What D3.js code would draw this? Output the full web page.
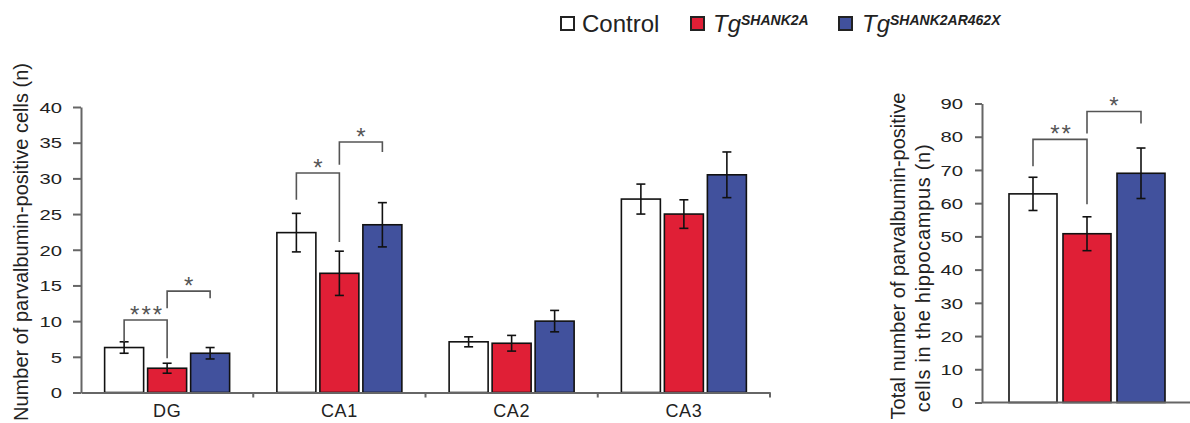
<!DOCTYPE html>
<html>
<head>
<meta charset="utf-8">
<script src="https://cdn.jsdelivr.net/npm/d3@7"></script>
<style>
  html, body { margin: 0; padding: 0; background: #fff; }
  svg { display: block; font-family: "Liberation Sans", Arial, sans-serif; }
</style>
</head>
<body>
<svg id="chart" width="1190" height="423"></svg>
<script>
// ---------- data ----------
const categories = ["DG", "CA1", "CA2", "CA3"];
const groups = ["Control", "SHANK2A", "SHANK2AR462X"];
const controlMeans = [6.3, 22.4, 7.1, 27.1];
const controlErr   = [0.8, 2.7, 0.7, 2.1];
const shank2aMeans = [3.4, 16.7, 6.9, 25.0];
const shank2aErr   = [0.7, 3.1, 1.1, 2.0];
const r462xMeans   = [5.5, 23.5, 10.0, 30.5];
const r462xErr     = [0.8, 3.1, 1.5, 3.2];
const totalMeans   = [62.8, 50.8, 69.0];
const totalErr     = [5.0, 5.1, 7.6];
const leftTicks  = [0, 5, 10, 15, 20, 25, 30, 35, 40];
const rightTicks = [0, 10, 20, 30, 40, 50, 60, 70, 80, 90];
// significance brackets (values in data units)
const leftBrackets = [
  { cat: "DG",  a: 0, b: 1, top: 10.15, endA: 7.1,  endB: 4.8,  label: "***" },
  { cat: "DG",  a: 1, b: 2, top: 14.2,  endA: 11.8, endB: 13.2, label: "*" },
  { cat: "CA1", a: 0, b: 1, top: 30.75, endA: 27.0, endB: 21.1, label: "*" },
  { cat: "CA1", a: 1, b: 2, top: 35.1,  endA: 31.9, endB: 33.7, label: "*" }
];
const rightBrackets = [
  { a: 0, b: 1, top: 79.2, endA: 71.1, endB: 59.7, label: "**" },
  { a: 1, b: 2, top: 87.6, endA: 81.0, endB: 84.0, label: "*" }
];

const colors = { "Control": "#ffffff", "SHANK2A": "#e01f36", "SHANK2AR462X": "#41519d" };
const axisColor = "#666";
const textColor = "#222";

const svg = d3.select("#chart");

// ---------- left chart ----------
const series = [
  { g: "Control", m: controlMeans, e: controlErr },
  { g: "SHANK2A", m: shank2aMeans, e: shank2aErr },
  { g: "SHANK2AR462X", m: r462xMeans, e: r462xErr }
];
const leftData = [];
categories.forEach((c, i) => series.forEach(s => leftData.push({ cat: c, g: s.g, v: s.m[i], e: s.e[i] })));

const x0 = d3.scaleBand().domain(categories).range([81, 770]).padding(0);
const x1 = d3.scaleBand().domain(groups).range([-64.5, 64.5]).paddingInner(0.093).paddingOuter(0.0465);
const yL = d3.scaleLinear().domain([0, 40]).range([392.5, 107]);
const barX = (cat, g) => x0(cat) + x0.bandwidth() / 2 + x1(g);
const barC = (cat, g) => barX(cat, g) + x1.bandwidth() / 2;

const left = svg.append("g");
left.selectAll("rect.bar").data(leftData).join("rect")
  .attr("class", "bar")
  .attr("x", d => barX(d.cat, d.g))
  .attr("y", d => yL(d.v))
  .attr("width", x1.bandwidth())
  .attr("height", d => yL(0) - yL(d.v))
  .attr("fill", d => colors[d.g])
  .attr("stroke", "#111").attr("stroke-width", 1.6);

const errG = left.selectAll("g.err").data(leftData).join("g").attr("class", "err")
  .attr("stroke", "#111").attr("stroke-width", 1.6);
errG.append("line")
  .attr("x1", d => barC(d.cat, d.g)).attr("x2", d => barC(d.cat, d.g))
  .attr("y1", d => yL(d.v - d.e)).attr("y2", d => yL(d.v + d.e));
errG.append("line")
  .attr("x1", d => barC(d.cat, d.g) - 4.5).attr("x2", d => barC(d.cat, d.g) + 4.5)
  .attr("y1", d => yL(d.v - d.e)).attr("y2", d => yL(d.v - d.e));
errG.append("line")
  .attr("x1", d => barC(d.cat, d.g) - 4.5).attr("x2", d => barC(d.cat, d.g) + 4.5)
  .attr("y1", d => yL(d.v + d.e)).attr("y2", d => yL(d.v + d.e));

// left y axis
const yAxisL = left.append("g").attr("transform", "translate(81,0)")
  .call(d3.axisLeft(yL).tickValues(leftTicks).tickSize(8).tickSizeOuter(0).tickPadding(0));
yAxisL.select(".domain").attr("stroke", axisColor).attr("stroke-width", 2);
yAxisL.selectAll(".tick line").attr("stroke", axisColor).attr("stroke-width", 2);
yAxisL.selectAll(".tick text")
  .attr("x", -19 / 1.35).attr("dy", "0.35em")
  .attr("transform", "scale(1.35,1)")
  .attr("fill", textColor).style("font-size", "15px").style("font-family", "Liberation Sans, Arial, sans-serif");

// left x axis
const xAxisL = left.append("g").attr("transform", `translate(0,${yL(0)})`)
  .call(d3.axisBottom(x0).tickSize(0).tickSizeOuter(0).tickPadding(12));
xAxisL.select(".domain").attr("stroke", axisColor).attr("stroke-width", 2);
xAxisL.selectAll(".tick text").attr("fill", textColor).style("font-size", "18px")
  .style("letter-spacing", "0.6px")
  .style("font-family", "Liberation Sans, Arial, sans-serif");
// small separators between categories
left.selectAll("line.sep").data(categories).join("line")
  .attr("class", "sep")
  .attr("x1", d => x0(d) + x0.bandwidth()).attr("x2", d => x0(d) + x0.bandwidth())
  .attr("y1", yL(0)).attr("y2", yL(0) + 5)
  .attr("stroke", axisColor).attr("stroke-width", 2);

// left y label
left.append("text")
  .attr("transform", `translate(28,242) rotate(-90)`)
  .attr("text-anchor", "middle")
  .attr("fill", textColor).style("font-size", "20px")
  .text("Number of parvalbumin-positive cells (n)");

// brackets
function drawBrackets(parent, list, xa, xb, y) {
  const g = parent.append("g");
  list.forEach(b => {
    const ax = xa(b), bx = xb(b);
    g.append("path")
      .attr("d", `M${ax},${y(b.endA)}V${y(b.top)}H${bx}V${y(b.endB)}`)
      .attr("fill", "none").attr("stroke", "#555").attr("stroke-width", 1.6);
    g.append("text")
      .attr("x", (ax + bx) / 2 + (b.label.length > 1 ? 1.5 : 0))
      .attr("y", y(b.top) + 3)
      .attr("text-anchor", "middle")
      .attr("fill", "#555")
      .style("font-size", "24px")
      .style("letter-spacing", b.label.length > 1 ? "2px" : "0px")
      .text(b.label);
  });
}
drawBrackets(left, leftBrackets,
  b => barC(b.cat, groups[b.a]), b => barC(b.cat, groups[b.b]), yL);

// ---------- right chart ----------
const totalData = groups.map((g, i) => ({ g, v: totalMeans[i], e: totalErr[i] }));
const xR = d3.scaleBand().domain(groups).range([1006, 1168]).paddingInner(0.111).paddingOuter(0.0555);
const yR = d3.scaleLinear().domain([0, 90]).range([402.5, 103.5]);
const right = svg.append("g");
right.selectAll("rect.bar").data(totalData).join("rect")
  .attr("class", "bar")
  .attr("x", d => xR(d.g)).attr("y", d => yR(d.v))
  .attr("width", xR.bandwidth()).attr("height", d => yR(0) - yR(d.v))
  .attr("fill", d => colors[d.g]).attr("stroke", "#111").attr("stroke-width", 1.6);
const cR = g => xR(g) + xR.bandwidth() / 2;
const errR = right.selectAll("g.err").data(totalData).join("g").attr("class", "err")
  .attr("stroke", "#111").attr("stroke-width", 1.6);
errR.append("line").attr("x1", d => cR(d.g)).attr("x2", d => cR(d.g))
  .attr("y1", d => yR(d.v - d.e)).attr("y2", d => yR(d.v + d.e));
errR.append("line").attr("x1", d => cR(d.g) - 4.5).attr("x2", d => cR(d.g) + 4.5)
  .attr("y1", d => yR(d.v - d.e)).attr("y2", d => yR(d.v - d.e));
errR.append("line").attr("x1", d => cR(d.g) - 4.5).attr("x2", d => cR(d.g) + 4.5)
  .attr("y1", d => yR(d.v + d.e)).attr("y2", d => yR(d.v + d.e));

const yAxisR = right.append("g").attr("transform", "translate(982,0)")
  .call(d3.axisLeft(yR).tickValues(rightTicks).tickSize(7).tickSizeOuter(0).tickPadding(0));
yAxisR.select(".domain").attr("stroke", axisColor).attr("stroke-width", 2);
yAxisR.selectAll(".tick line").attr("stroke", axisColor).attr("stroke-width", 2);
yAxisR.selectAll(".tick text")
  .attr("x", -19 / 1.35).attr("dy", "0.35em")
  .attr("transform", "scale(1.35,1)")
  .attr("fill", textColor).style("font-size", "15px").style("font-family", "Liberation Sans, Arial, sans-serif");

right.append("line").attr("x1", 982).attr("x2", 1190).attr("y1", yR(0)).attr("y2", yR(0))
  .attr("stroke", axisColor).attr("stroke-width", 2);

const rLabel = right.append("text")
  .attr("transform", `translate(905,256) rotate(-90)`)
  .attr("text-anchor", "middle")
  .attr("fill", textColor).style("font-size", "20px");
rLabel.append("tspan").attr("x", 0).attr("dy", 0).text("Total number of parvalbumin-positive");
rLabel.append("tspan").attr("x", -22).attr("dy", 25).style("letter-spacing", "0.7px")
  .text("cells in the hippocampus (n)");

drawBrackets(right, rightBrackets, b => cR(groups[b.a]), b => cR(groups[b.b]), yR);

// ---------- legend ----------
const legendItems = [
  { g: "Control", sq: 561, tx: 582, main: "Control", sup: null },
  { g: "SHANK2A", sq: 691, tx: 713, main: "Tg", sup: "SHANK2A" },
  { g: "SHANK2AR462X", sq: 839, tx: 862, main: "Tg", sup: "SHANK2AR462X" }
];
const leg = svg.append("g");
legendItems.forEach(it => {
  leg.append("rect").attr("x", it.sq).attr("y", 17).attr("width", 13).attr("height", 13)
    .attr("fill", colors[it.g]).attr("stroke", "#222").attr("stroke-width", 2);
  const t = leg.append("text").attr("x", it.tx).attr("y", 32)
    .attr("fill", textColor).style("font-size", "24px");
  if (it.sup) {
    t.style("font-style", "italic");
    t.append("tspan").text(it.main);
    t.append("tspan").attr("dy", -7).style("font-size", "14px").style("font-weight", "bold").text(it.sup);
  } else {
    t.text(it.main);
  }
});
</script>
</body>
</html>
